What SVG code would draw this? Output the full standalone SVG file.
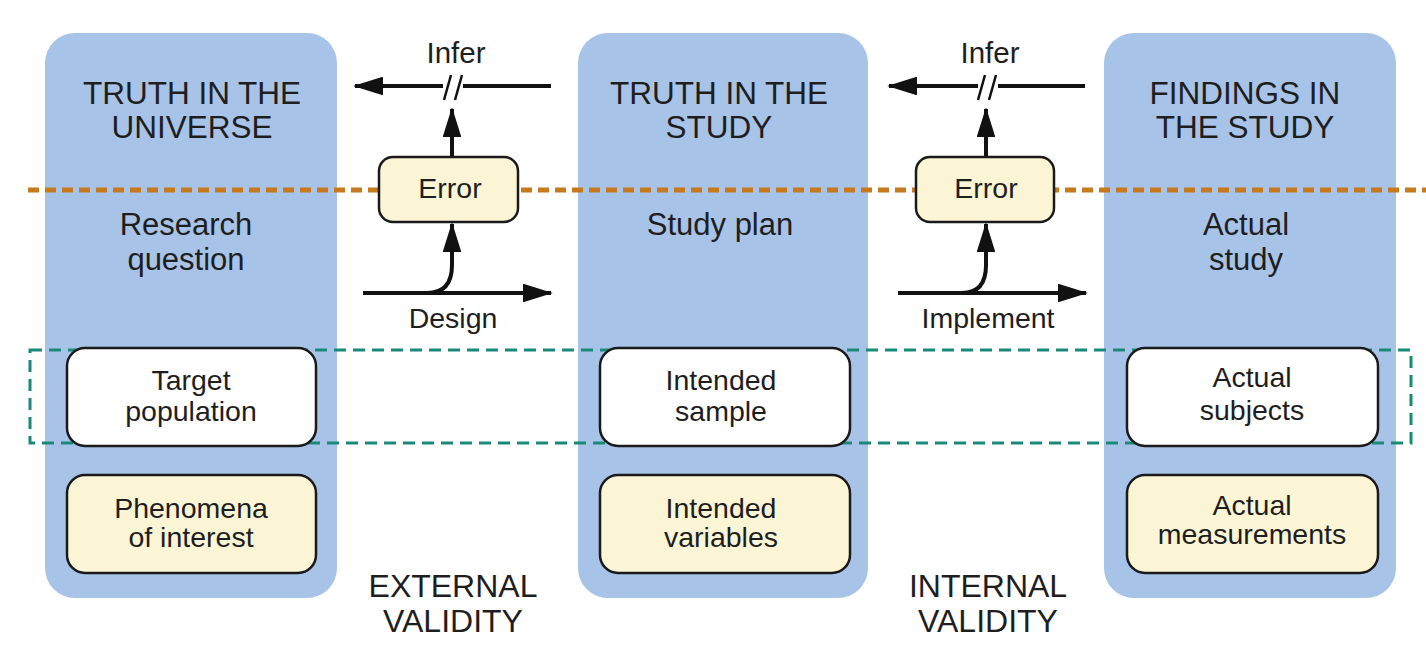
<svg xmlns="http://www.w3.org/2000/svg" width="1426" height="652" viewBox="0 0 1426 652">
<defs>
<style>
text{font-family:"Liberation Sans",Arial,sans-serif;fill:#1e1e1e;text-anchor:middle}
.col{fill:#a8c3e8}
.hd{font-size:31.5px}
.md{font-size:31px}
.bd{font-size:28.5px}
.wn{fill:#fff;stroke:#1a1a1a;stroke-width:2.5}
.yn{fill:#fbf5d6;stroke:#1a1a1a;stroke-width:2.5}
.ln{fill:none;stroke:#111;stroke-width:4}
.brk{fill:none;stroke:#111;stroke-width:2.5}
</style>
<marker id="ah" viewBox="0 0 16 10" refX="15" refY="5" markerWidth="7.5" markerHeight="4.7" markerUnits="strokeWidth" orient="auto">
<path d="M0,0 L16,5 L0,10 Z" fill="#111"/>
</marker>
</defs>
<rect width="1426" height="652" fill="#fff"/>
<g id="col-universe"><rect class="col" x="45" y="33" width="292" height="565" rx="30"/>
<text class="hd" x="192" y="104">TRUTH IN THE</text><text class="hd" x="192" y="138">UNIVERSE</text>
<text class="md" x="186" y="235">Research</text><text class="md" x="186" y="270">question</text></g>
<g id="col-study"><rect class="col" x="578" y="33" width="290" height="565" rx="30"/>
<text class="hd" x="719" y="104">TRUTH IN THE</text><text class="hd" x="719" y="138">STUDY</text>
<text class="md" x="720" y="235">Study plan</text></g>
<g id="col-findings"><rect class="col" x="1104" y="33" width="292" height="565" rx="30"/>
<text class="hd" x="1245" y="104">FINDINGS IN</text><text class="hd" x="1245" y="138">THE STUDY</text>
<text class="md" x="1246" y="235">Actual</text><text class="md" x="1246" y="270">study</text></g>
<line x1="28" y1="190" x2="1426" y2="190" stroke="#c67a1c" stroke-width="5" stroke-dasharray="11,6"/>
<g id="connectors">
<path class="ln" d="M551,86 H355" marker-end="url(#ah)"/>
<path class="ln" d="M452,156 V109" marker-end="url(#ah)"/>
<path class="ln" d="M363,293 H551" marker-end="url(#ah)"/>
<path class="ln" d="M427,293 Q452,293 452,265 V224" marker-end="url(#ah)"/>
<path class="ln" d="M1085,86 H889" marker-end="url(#ah)"/>
<path class="ln" d="M986,156 V109" marker-end="url(#ah)"/>
<path class="ln" d="M898,293 H1086" marker-end="url(#ah)"/>
<path class="ln" d="M962,293 Q986,293 986,265 V224" marker-end="url(#ah)"/>
<rect x="443" y="78" width="20" height="16" fill="#fff"/>
<path class="brk" d="M444,100 L451,75 M455,100 L462,75"/>
<rect x="978" y="78" width="20" height="16" fill="#fff"/>
<path class="brk" d="M978,100 L985,75 M989,100 L996,75"/>
</g>
<g id="error1"><rect class="yn" x="379" y="157" width="139" height="65" rx="14"/><text class="bd" x="450" y="198">Error</text></g>
<g id="error2"><rect class="yn" x="916" y="157" width="138" height="65" rx="14"/><text class="bd" x="986" y="198">Error</text></g>
<text x="456" y="63" style="font-size:29.5px">Infer</text>
<text x="990" y="63" style="font-size:29.5px">Infer</text>
<text class="bd" x="453" y="328">Design</text>
<text class="bd" x="988" y="328">Implement</text>
<rect x="30" y="350" width="1381" height="93" fill="none" stroke="#1a8a78" stroke-width="3" stroke-dasharray="12,7"/>
<g id="target"><rect class="wn" x="67" y="348" width="249" height="98" rx="18"/><text class="bd" x="191" y="390">Target</text><text class="bd" x="191" y="421">population</text></g>
<g id="phenomena"><rect class="yn" x="67" y="475" width="249" height="98" rx="18"/><text class="bd" x="191" y="518">Phenomena</text><text class="bd" x="191" y="547">of interest</text></g>
<g id="intended-sample"><rect class="wn" x="600" y="348" width="250" height="98" rx="18"/><text class="bd" x="721" y="390">Intended</text><text class="bd" x="721" y="421">sample</text></g>
<g id="intended-variables"><rect class="yn" x="600" y="475" width="250" height="98" rx="18"/><text class="bd" x="721" y="518">Intended</text><text class="bd" x="721" y="547">variables</text></g>
<g id="actual-subjects"><rect class="wn" x="1127" y="348" width="251" height="98" rx="18"/><text class="bd" x="1252" y="387">Actual</text><text class="bd" x="1252" y="420">subjects</text></g>
<g id="actual-measurements"><rect class="yn" x="1127" y="475" width="251" height="98" rx="18"/><text class="bd" x="1252" y="515">Actual</text><text class="bd" x="1252" y="544">measurements</text></g>
<text class="hd" x="453" y="597" style="font-size:32px">EXTERNAL</text><text class="hd" x="453" y="632" style="font-size:32px">VALIDITY</text>
<text class="hd" x="988" y="597" style="font-size:32px">INTERNAL</text><text class="hd" x="988" y="632" style="font-size:32px">VALIDITY</text>
</svg>
